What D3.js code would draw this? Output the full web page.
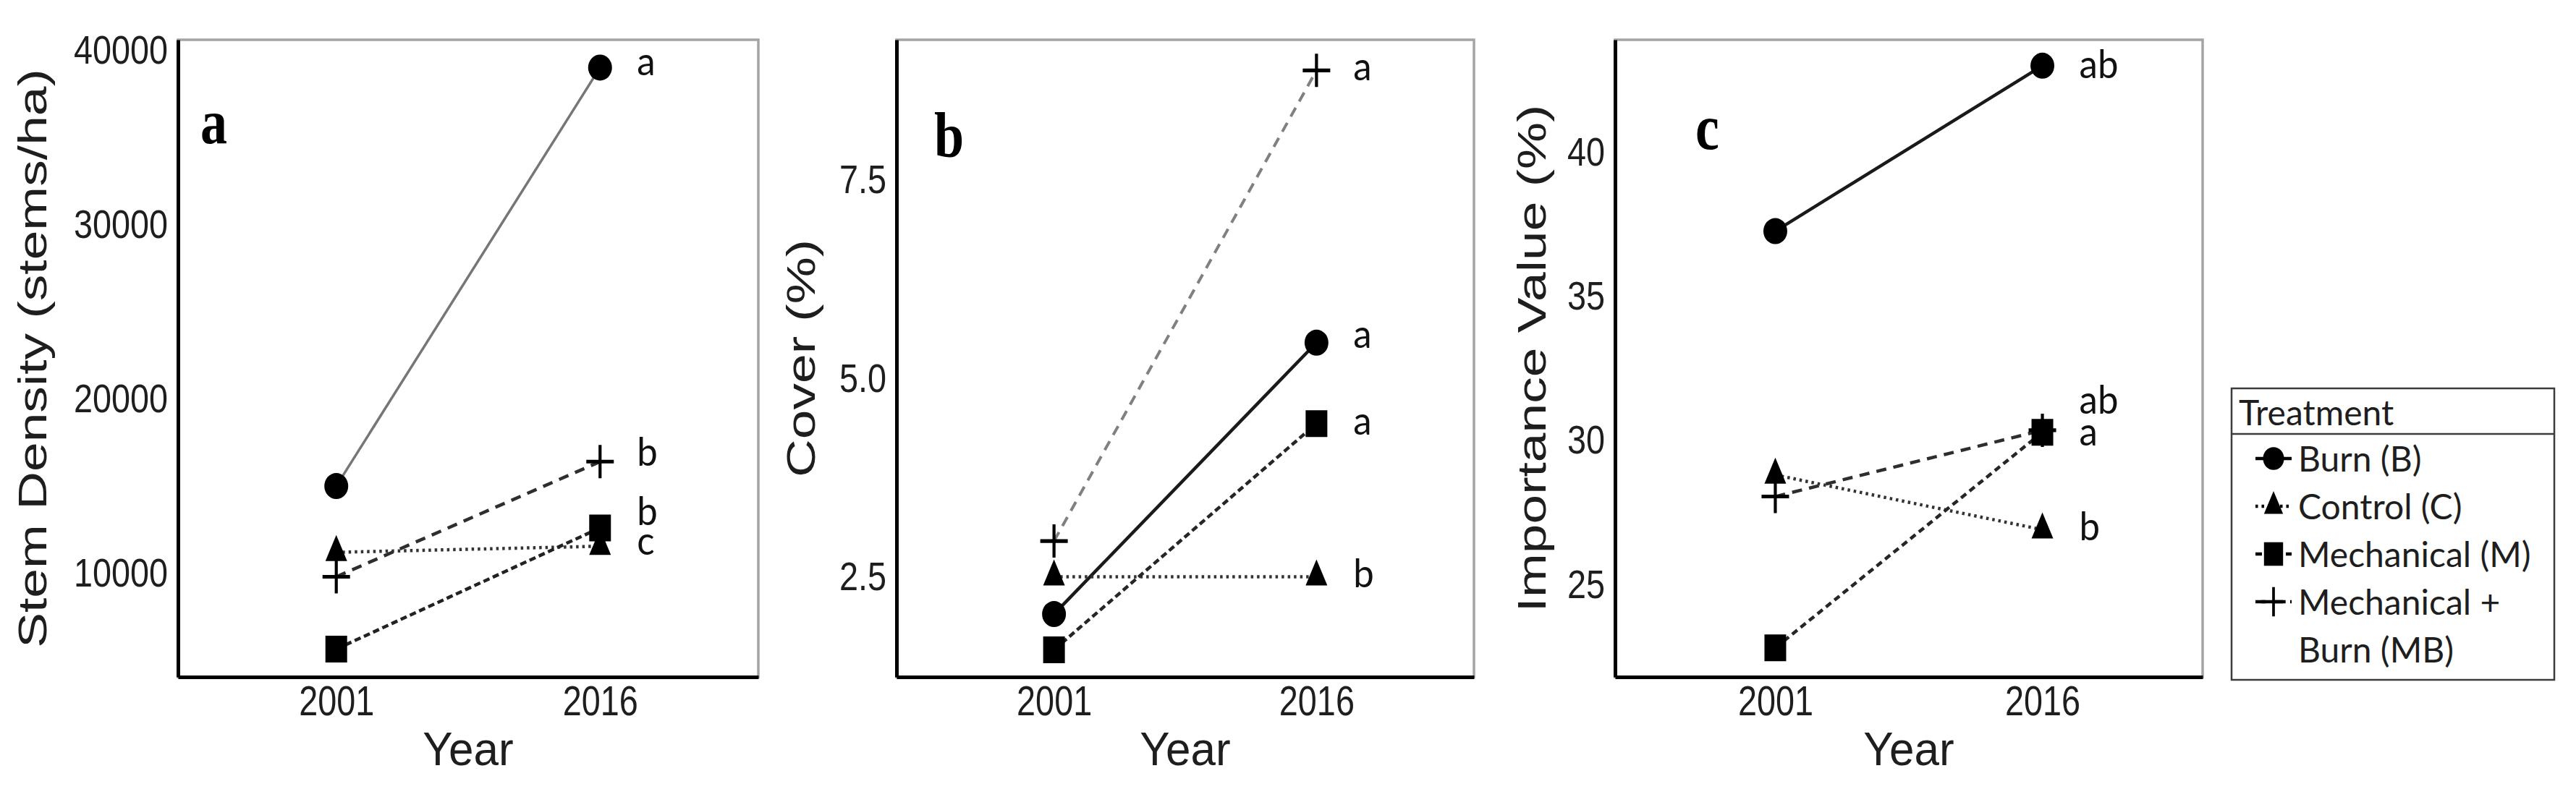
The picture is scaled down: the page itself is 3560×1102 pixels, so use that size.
<!DOCTYPE html>
<html>
<head>
<meta charset="utf-8">
<script src="https://cdn.jsdelivr.net/npm/d3@7"></script>
<style>
html, body { margin: 0; padding: 0; background: #fff; }
svg { display: block; }
</style>
</head>
<body>
<svg id="chart" width="3560" height="1102"></svg>
<script>
// ================= DATA =================
const years = ["2001", "2016"];
const treatments = ["Burn (B)", "Control (C)", "Mechanical (M)", "Mechanical + Burn (MB)"];
const codes = ["B", "C", "M", "MB"];

// panel a: stem density (stems/ha), order B, C, M, MB
const stemDensity2001 = [15000, 11200, 5650, 9800];
const stemDensity2016 = [39000, 11550, 12600, 16400];
const stemDensityLetters = ["a", "c", "b", "b"];
const stemDensityTicks = [10000, 20000, 30000, 40000];

// panel b: cover (%)
const cover2001 = [2.03, 2.5, 1.58, 2.95];
const cover2016 = [5.45, 2.5, 4.43, 8.88];
const coverLetters = ["a", "b", "a", "a"];
const coverTicks = [2.5, 5.0, 7.5];

// panel c: importance value (%)
const importance2001 = [37.26, 28.8, 22.8, 28.05];
const importance2016 = [43.0, 26.9, 30.28, 30.35];
const importanceLetters = ["ab", "b", "a", "ab"];
const importanceTicks = [25, 30, 35, 40];

const panelLabels = ["a", "b", "c"];
const yTitles = ["Stem Density (stems/ha)", "Cover (%)", "Importance Value (%)"];
const xTitle = "Year";
const legendTitle = "Treatment";
const legendLines = [["Burn (B)"], ["Control (C)"], ["Mechanical (M)"], ["Mechanical +", "Burn (MB)"]];

// ================= LAYOUT / STYLE =================
const TOP = 55, BOTTOM = 936;
const SANS = "'Liberation Sans', Arial, sans-serif";
const CAL = "Lato, 'Open Sans', sans-serif";
const SERIF = "'Liberation Serif', 'Times New Roman', serif";

const panelLayout = [
  { x0: 246, x1: 1048, yDomain: [4053, 40594], fmt: d3.format("d"),
    labelX: 277, labelY: 198, titleX: 64, letterDy: [11, 11.5, -4, 6] },
  { x0: 1239, x1: 2037, yDomain: [1.238, 9.266], fmt: d3.format(".1f"),
    labelX: 1291, labelY: 217, titleX: 1126, letterDy: [7, 14.5, 15, 14] },
  { x0: 2232, x1: 3044, yDomain: [21.79, 43.90], fmt: d3.format("d"),
    labelX: 2343, labelY: 206, titleX: 2136, letterDy: [17.6, 15, 18, -23] }
];

const panelData = [
  { v01: stemDensity2001, v16: stemDensity2016, letters: stemDensityLetters, ticks: stemDensityTicks },
  { v01: cover2001, v16: cover2016, letters: coverLetters, ticks: coverTicks },
  { v01: importance2001, v16: importance2016, letters: importanceLetters, ticks: importanceTicks }
];

// [stroke, width, dasharray]
const lineStyles = [
  { B: ["#767676", 3.5, null], C: ["#333333", 4.5, "3.5,5"], M: ["#222222", 4.5, "9,5"], MB: ["#2e2e2e", 4.5, "14,10"] },
  { B: ["#1a1a1a", 4.5, null], C: ["#333333", 4.5, "3.5,5"], M: ["#262626", 4.5, "9,5"], MB: ["#808080", 4, "14,10"] },
  { B: ["#1a1a1a", 4.5, null], C: ["#333333", 4.5, "3.5,5"], M: ["#262626", 4.5, "9,6"], MB: ["#2e2e2e", 4.5, "14,10"] }
];

// custom plus symbol (line cross)
const plusType = {
  draw(ctx, size) {
    const r = Math.sqrt(size) / 2;
    ctx.moveTo(-r, 0); ctx.lineTo(r, 0);
    ctx.moveTo(0, -r); ctx.lineTo(0, r);
  }
};

function drawSymbol(parent, code, x, y, k) {
  k = k || 1;
  const g = parent.append("g").attr("transform", `translate(${x},${y})`);
  if (code === "B") {
    g.append("path").attr("d", d3.symbol(d3.symbolCircle, Math.PI * 16.5 * 16.5)())
      .attr("transform", `scale(${k},${k * 18 / 16.5})`).attr("fill", "#000");
  } else if (code === "M") {
    g.append("path").attr("d", d3.symbol(d3.symbolSquare, 30 * 30)())
      .attr("transform", `scale(${k},${k * 37 / 30})`).attr("fill", "#000");
  } else if (code === "C") {
    const yy = 30 / (2 * Math.sqrt(3));
    g.append("path").attr("d", d3.symbol(d3.symbolTriangle, yy * yy * 3 * Math.sqrt(3))())
      .attr("transform", `scale(${k},${k * 36 / 26})`).attr("fill", "#000");
  } else {
    g.append("path").attr("d", d3.symbol(plusType, 38 * 38)())
      .attr("transform", `scale(${k},${k * 46 / 38})`)
      .attr("fill", "none").attr("stroke", "#000").attr("stroke-width", 4.2);
  }
  return g;
}

// ================= DRAW =================
const svg = d3.select("#chart");
svg.append("rect").attr("width", 3560).attr("height", 1102).attr("fill", "#fff");

panelLayout.forEach((L, pi) => {
  const D = panelData[pi];
  const g = svg.append("g");
  const x = d3.scalePoint().domain(years).range([L.x0, L.x1]).padding(0.6);
  const y = d3.scaleLinear().domain(L.yDomain).range([BOTTOM, TOP]);

  // panel border (grey)
  g.append("rect").attr("x", L.x0).attr("y", TOP)
    .attr("width", L.x1 - L.x0).attr("height", BOTTOM - TOP)
    .attr("fill", "none").attr("stroke", "#a4a4a4").attr("stroke-width", 3.5);

  // y axis
  const ya = g.append("g").attr("transform", `translate(${L.x0},0)`)
    .call(d3.axisLeft(y).tickValues(D.ticks).tickFormat(L.fmt).tickSize(0).tickPadding(14).tickSizeOuter(0));
  ya.select(".domain").attr("stroke", "#000").attr("stroke-width", 5);
  ya.selectAll("text").attr("font-family", SANS).attr("font-size", 46.8).attr("fill", "#1e1e1e")
    .attr("transform", "scale(1,1.2)");

  // x axis
  const xa = g.append("g").attr("transform", `translate(0,${BOTTOM})`)
    .call(d3.axisBottom(x).tickSize(0).tickPadding(10).tickSizeOuter(0));
  xa.select(".domain").attr("stroke", "#000").attr("stroke-width", 5);
  xa.selectAll("text").attr("font-family", SANS).attr("font-size", 46.8).attr("fill", "#1e1e1e")
    .attr("transform", "scale(1,1.22)");

  // axis titles
  g.append("text").text(xTitle)
    .attr("transform", `translate(${(L.x0 + L.x1) / 2},1058) scale(1,1.04)`)
    .attr("text-anchor", "middle").attr("font-family", SANS).attr("font-size", 62).attr("fill", "#1e1e1e");
  g.append("text").text(yTitles[pi])
    .attr("transform", `translate(${L.titleX},${(TOP + BOTTOM) / 2}) scale(1,1.33) rotate(-90)`)
    .attr("text-anchor", "middle").attr("font-family", SANS).attr("font-size", 55).attr("fill", "#1e1e1e");

  // panel label
  g.append("text").text(panelLabels[pi])
    .attr("transform", `translate(${L.labelX},${L.labelY}) scale(1,1.2)`)
    .attr("font-family", SERIF).attr("font-weight", "bold").attr("font-size", 74).attr("fill", "#000");

  // lines
  const line = d3.line().x(d => x(d[0])).y(d => y(d[1]));
  codes.forEach((c, i) => {
    const st = lineStyles[pi][c];
    g.append("path")
      .attr("d", line([[years[0], D.v01[i]], [years[1], D.v16[i]]]))
      .attr("fill", "none").attr("stroke", st[0]).attr("stroke-width", st[1])
      .attr("stroke-dasharray", st[2]);
  });

  // points
  codes.forEach((c, i) => {
    drawSymbol(g, c, x(years[0]), y(D.v01[i]));
    drawSymbol(g, c, x(years[1]), y(D.v16[i]));
  });

  // significance letters
  codes.forEach((c, i) => {
    g.append("text").text(D.letters[i])
      .attr("transform", `translate(${x(years[1]) + 51},${y(D.v16[i]) + L.letterDy[i]}) scale(1,1.05)`)
      .attr("font-family", CAL).attr("font-size", 51).attr("fill", "#111");
  });
});

// ================= LEGEND =================
const lg = svg.append("g");
const LX0 = 3084, LX1 = 3530, LY0 = 537, LY1 = 940, LSEP = 600;
lg.append("rect").attr("x", LX0).attr("y", LY0).attr("width", LX1 - LX0).attr("height", LY1 - LY0)
  .attr("fill", "#fff").attr("stroke", "#3c3c3c").attr("stroke-width", 2.5);
lg.append("line").attr("x1", LX0).attr("x2", LX1).attr("y1", LSEP).attr("y2", LSEP)
  .attr("stroke", "#3c3c3c").attr("stroke-width", 2.5);
lg.append("text").text(legendTitle).attr("x", 3094).attr("y", 588)
  .attr("font-family", CAL).attr("font-size", 48).attr("fill", "#1e1e1e");

const rowY = d3.scaleLinear().domain([0, 1]).range([634, 700]);
codes.forEach((c, i) => {
  const yy = rowY(i);
  const st = lineStyles[0][c];
  lg.append("line").attr("x1", 3117).attr("x2", 3167).attr("y1", yy).attr("y2", yy)
    .attr("stroke", "#000").attr("stroke-width", 4.5).attr("stroke-dasharray", st[2]);
  drawSymbol(lg, c, 3142, yy, 0.88);
  legendLines[i].forEach((t, j) => {
    lg.append("text").text(t).attr("x", 3176).attr("y", yy + 18 + j * 66)
      .attr("font-family", CAL).attr("font-size", 48).attr("fill", "#1e1e1e");
  });
});
</script>
</body>
</html>
